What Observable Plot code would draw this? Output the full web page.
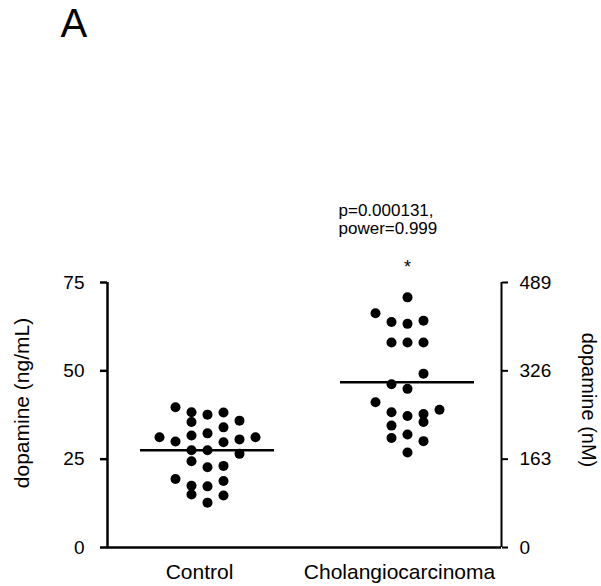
<!DOCTYPE html>
<html>
<head>
<meta charset="utf-8">
<script src="https://cdn.jsdelivr.net/npm/d3@7"></script>
<script src="https://cdn.jsdelivr.net/npm/@observablehq/plot@0.6"></script>
<style>
  html, body { margin: 0; padding: 0; background: #fff; }
  #chart svg { display: block; }
</style>
</head>
<body>
<div id="chart"></div>
<script>
// ---- data ----
const categories = ["Control", "Cholangiocarcinoma"];

const controlValues  = [39.7, 38.3, 37.6, 38.2, 35.5, 34.0, 35.9, 31.2, 30.0, 31.7, 32.3, 29.8, 30.6, 31.2,
                        27.5, 27.5, 26.5, 24.4, 22.7, 23.1, 19.4, 17.5, 17.3, 18.8, 15.0, 14.7, 12.7];
const controlColumns = [-2, -1, 0, 1, -1, 1, 2, -3, -2, -1, 0, 1, 2, 3,
                        -1, 0, 2, -1, 0, 1, -2, -1, 0, 1, -1, 1, 0];

const cholValues  = [70.8, 66.3, 63.8, 63.3, 64.2, 58.0, 58.0, 58.0, 49.2, 46.2, 44.9,
                     41.1, 38.3, 37.2, 37.8, 35.5, 39.0, 34.5, 31.0, 32.0, 30.1, 26.9];
const cholColumns = [0, -2, -1, 0, 1, -1, 0, 1, 1, -1, 0,
                     -2, -1, 0, 1, 1, 2, -1, -1, 0, 1, 0];

const groupMeans = [27.5, 46.8];

const yTicks = [0, 25, 50, 75];
const nMTickLabels = ["0", "163", "326", "489"];

const leftTitle = "dopamine (ng/mL)";
const rightTitle = "dopamine (nM)";
const statLines = ["p=0.000131,", "power=0.999"];
const starText = "*";
const panelLabel = "A";

// ---- table built from the arrays ----
const points = [
  ...controlValues.map((v, i) => ({group: 0, value: v, col: controlColumns[i]})),
  ...cholValues.map((v, i) => ({group: 1, value: v, col: cholColumns[i]}))
];
const means = groupMeans.map((m, i) => ({group: i, value: m}));

const colStep = 0.08;      // horizontal spacing of dot columns (in group units)
const meanHalf = 0.335;    // half-length of mean line
const xDomain = [-0.5, 1.47];

const chart = Plot.plot({
  width: 601,
  height: 586,
  marginLeft: 107,
  marginRight: 100,
  marginTop: 282,
  marginBottom: 39,
  style: {fontFamily: "'Liberation Sans', Arial, Helvetica, sans-serif", color: "#000", background: "#fff"},
  x: {type: "linear", domain: xDomain},
  y: {domain: [0, 75]},
  marks: [
    // axis lines
    Plot.ruleX([xDomain[0]], {y1: 0, y2: 75, stroke: "#000", strokeWidth: 2.5}),
    Plot.ruleX([xDomain[1]], {y1: 0, y2: 75, stroke: "#000", strokeWidth: 2}),
    Plot.ruleY([0], {x1: xDomain[0], x2: xDomain[1], stroke: "#000", strokeWidth: 2.5}),
    // axes
    Plot.axisY({anchor: "left", ticks: yTicks, tickSize: 7, tickPadding: 16, fontSize: 19,
                strokeWidth: 2.5, label: null}),
    Plot.axisY({anchor: "right", ticks: yTicks, tickSize: 6, tickPadding: 12, fontSize: 19,
                strokeWidth: 2, label: null, tickFormat: (d) => nMTickLabels[yTicks.indexOf(d)]}),
    Plot.axisX({anchor: "bottom", ticks: categories.map((c, i) => i), tickSize: 0, tickPadding: 17,
                dx: -8, fontSize: 21, label: null, tickFormat: (d) => categories[d]}),
    // mean lines
    Plot.ruleY(means, {y: "value", x1: (d) => d.group - meanHalf, x2: (d) => d.group + meanHalf,
                       stroke: "#000", strokeWidth: 2.5}),
    // dots
    Plot.dot(points, {x: (d) => d.group + d.col * colStep, y: "value", r: 5, fill: "#000", stroke: "none"}),
    // axis titles
    Plot.text([leftTitle], {frameAnchor: "left", textAnchor: "middle", dx: -85, dy: -12, rotate: -90,
                            fontSize: 21, fill: "#000"}),
    Plot.text([rightTitle], {frameAnchor: "right", textAnchor: "middle", dx: 87, dy: -15, rotate: 90,
                             fontSize: 20, fill: "#000"}),
    // annotations
    Plot.text([statLines[0]], {x: [1], frameAnchor: "top", dx: -69, dy: -72, textAnchor: "start",
                               lineAnchor: "middle", fontSize: 17, fill: "#000"}),
    Plot.text([statLines[1]], {x: [1], frameAnchor: "top", dx: -69, dy: -54, textAnchor: "start",
                               lineAnchor: "middle", fontSize: 17, fill: "#000"}),
    Plot.text([starText], {x: [1], frameAnchor: "top", dy: -22, fontSize: 18, fill: "#000"}),
    Plot.text([panelLabel], {frameAnchor: "top-left", dx: -47, dy: -246, textAnchor: "start",
                             lineAnchor: "bottom", fontSize: 40, fill: "#000"})
  ]
});

document.getElementById("chart").appendChild(chart);
</script>
</body>
</html>
